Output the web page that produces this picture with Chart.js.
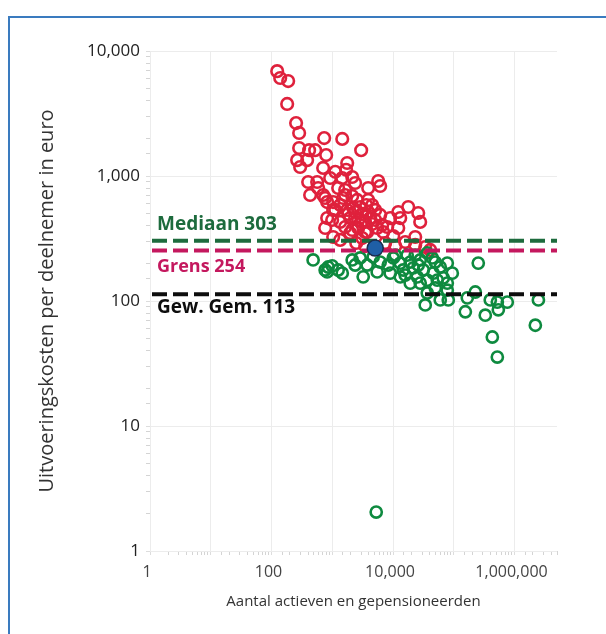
<!DOCTYPE html>
<html>
<head>
<meta charset="utf-8">
<script src="https://cdn.jsdelivr.net/npm/chart.js@4.4.1/dist/chart.umd.min.js"></script>
<style>
  html, body { margin: 0; padding: 0; background: #fff; overflow: hidden; }
  #kader { position: absolute; left: 8px; top: 16px; width: 800px; height: 800px;
           border-left: 2px solid #3a7bbf; border-top: 2px solid #3a7bbf; }
  #wrap { position: absolute; left: 0; top: 0; width: 606px; height: 634px; }
</style>
</head>
<body>
<div id="kader"></div>
<div id="wrap"><canvas id="grafiek" width="606" height="634"></canvas></div>
<script>
// Fondsen met kosten boven de grens (rood)
const deelnemersBoven = [124, 139, 188, 181, 254, 285, 736, 1460, 285, 416, 523, 794, 2990, 264, 386, 1760, 296, 708, 1120, 923,
  1456, 2380, 3900, 5700, 6150, 401, 564, 432, 708, 824, 1250, 1630, 2570, 3900, 2880, 17800, 1120, 12200, 764, 1035,
  1510, 1035, 824, 996, 764, 1350, 1970, 2210, 3620, 2670, 4210, 6150, 9000, 13150, 26000, 8020, 12200, 23200, 1035, 1970,
  3760, 5490, 2670, 1630, 7430, 15900, 33900, 1630, 2130, 3110, 4540, 3110, 10100, 2130, 1690, 586, 2380, 3480, 5090, 1830,
  6900, 2480, 1350, 28000, 10900, 1350, 1760, 2380, 3110, 3900, 5090, 6640, 2130, 3480, 4540,
  3480, 23200, 41000];
const kostenBoven = [6900, 6080, 5750, 3770, 2650, 2210, 2010, 1980, 1675, 1610, 1610, 1470, 1610, 1340, 1340, 1270, 1180, 1160, 1080, 964,
  964, 879, 802, 912, 832, 895, 895, 705, 705, 619, 802, 705, 643, 643, 565, 565, 535, 515, 667, 619,
  667, 535, 461, 445, 384, 429, 461, 555, 586, 445, 461, 488, 461, 461, 506, 391, 384, 325, 325, 350,
  356, 384, 384, 391, 291, 296, 270, 773, 692, 497, 413, 319, 331, 982, 1120, 802, 515, 429, 535, 497,
  356, 291, 308, 429, 275, 586, 535, 461, 429, 515, 445, 406, 370, 356, 586,
  275, 281, 256];

// Fondsen met kosten onder de grens (groen)
const deelnemersOnder = [484, 764, 856, 996, 824, 1460, 2380, 3230, 3760, 5490, 6150, 8340, 10100, 13150, 17100, 19200, 21500, 28000, 31500, 36600,
  44300, 45900, 59900, 78200, 94500, 19200, 28000, 36600, 53500, 78200, 33900, 59900, 13150, 9000, 4720, 253000, 67100, 49600, 78200, 36600,
  81200, 226000, 167000, 399000, 521000, 760000, 2470000, 155000, 330000, 541000, 2200000, 431000, 521000, 5290, 23200, 26000, 10900, 2880, 14700, 49600,
  15900, 25100, 2130, 1250];
const kostenOnder = [213, 177, 187, 191, 171, 167, 194, 156, 194, 171, 205, 194, 221, 201, 233, 205, 184, 213, 177, 242,
  221, 167, 187, 201, 167, 139, 139, 147, 147, 139, 93, 102, 156, 167, 225, 201, 153, 127, 122, 116,
  102, 118, 106, 102, 98, 98, 102, 82, 77, 85, 64, 51.5, 35.6, 2.05, 233, 194, 233, 221, 177, 205,
  161, 156, 213, 177];

// Uitgelicht fonds (blauw)
const deelnemersUitgelicht = [5090];
const kostenUitgelicht = [265];

// Referentielijnen
const lijnNamen = ['Mediaan', 'Grens', 'Gew. Gem.'];
const lijnWaarden = [303, 254, 113];
const lijnKleuren = ['#1d6b3d', '#c4185e', '#0d0d0d'];
const lijnLabelAfstand = [-16, 16, 13];
const lijnLabelGrootte = [19, 18, 19];

// As-labels
const xLabelWaarden = [1, 100, 10000, 1000000];
const yLabelWaarden = [1, 10, 100, 1000, 10000];

const FONT = "'Open Sans', 'Noto Sans', sans-serif";

function punten(xs, ys) { return xs.map((x, i) => ({ x: x, y: ys[i] })); }
function isDecade(v) { const l = Math.log10(v); return Math.abs(l - Math.round(l)) < 1e-7; }
function formatteer(v) { return String(Math.round(v)).replace(/\B(?=(\d{3})+(?!\d))/g, ','); }
function inLijst(v, lijst) { return lijst.some(w => Math.abs(w - v) / w < 1e-7); }

const referentieLijnen = {
  id: 'referentieLijnen',
  afterDatasetDraw(chart, args) {
    if (args.index !== 1) return;
    const { ctx, chartArea, scales } = chart;
    ctx.save();
    lijnWaarden.forEach((waarde, i) => {
      const y = scales.y.getPixelForValue(waarde);
      ctx.beginPath();
      ctx.setLineDash([15, 6]);
      ctx.lineWidth = 4;
      ctx.strokeStyle = lijnKleuren[i];
      ctx.moveTo(chartArea.left + 2, y);
      ctx.lineTo(chartArea.right, y);
      ctx.stroke();
      ctx.setLineDash([]);
      ctx.font = 'bold ' + lijnLabelGrootte[i] + 'px ' + FONT;
      ctx.fillStyle = lijnKleuren[i];
      ctx.textAlign = 'left';
      ctx.textBaseline = 'middle';
      ctx.fillText(lijnNamen[i] + ' ' + waarde, chartArea.left + 7, y + lijnLabelAfstand[i]);
    });
    ctx.restore();
  }
};

function gridOpties() {
  return {
    color: c => (c.tick && isDecade(c.tick.value)) ? '#ececec' : 'rgba(0,0,0,0)',
    tickColor: c => (c.tick && isDecade(c.tick.value)) ? '#dddddd' : '#d4d4d4',
    tickLength: 4,
    lineWidth: 1
  };
}

new Chart(document.getElementById('grafiek'), {
  type: 'scatter',
  data: {
    datasets: [
      {
        label: 'Uitgelicht',
        data: punten(deelnemersUitgelicht, kostenUitgelicht),
        backgroundColor: '#1f5fa6',
        borderColor: '#1b2c4c',
        borderWidth: 1.5,
        pointRadius: 8
      },
      {
        label: 'Onder grens',
        data: punten(deelnemersOnder, kostenOnder),
        backgroundColor: 'rgba(0,0,0,0)',
        borderColor: '#0e8a3f',
        borderWidth: 2.6,
        pointRadius: 5.6
      },
      {
        label: 'Boven grens',
        data: punten(deelnemersBoven, kostenBoven),
        backgroundColor: 'rgba(0,0,0,0)',
        borderColor: '#df213c',
        borderWidth: 2.6,
        pointRadius: 5.8
      }
    ]
  },
  options: {
    responsive: false,
    animation: false,
    devicePixelRatio: 1,
    layout: { padding: { left: 0, top: 51, right: 49, bottom: 0 } },
    plugins: { legend: { display: false }, tooltip: { enabled: false } },
    scales: {
      x: {
        type: 'logarithmic',
        min: 1,
        max: 5000000,
        afterFit(s) { s.height = 83; },
        border: { display: false },
        grid: gridOpties(),
        ticks: {
          autoSkip: false,
          maxRotation: 0,
          padding: 8,
          labelOffset: -3,
          color: '#444',
          font: { family: FONT, size: 16 },
          callback: v => inLijst(v, xLabelWaarden) ? formatteer(v) : ''
        },
        title: {
          display: true,
          text: 'Aantal actieven en gepensioneerden',
          color: '#333',
          font: { family: FONT, size: 15 },
          padding: { top: 0, bottom: 23 }
        }
      },
      y: {
        type: 'logarithmic',
        min: 1,
        max: 10000,
        afterFit(s) { s.width = 150; },
        border: { display: false },
        grid: gridOpties(),
        ticks: {
          autoSkip: false,
          padding: 6,
          color: '#222',
          font: { family: FONT, size: 17 },
          callback: v => inLijst(v, yLabelWaarden) ? formatteer(v) : ''
        },
        title: {
          display: true,
          text: 'Uitvoeringskosten per deelnemer in euro',
          color: '#333',
          font: { family: FONT, size: 20 },
          padding: { top: 35, bottom: 0 }
        }
      }
    }
  },
  plugins: [referentieLijnen]
});
</script>
</body>
</html>
